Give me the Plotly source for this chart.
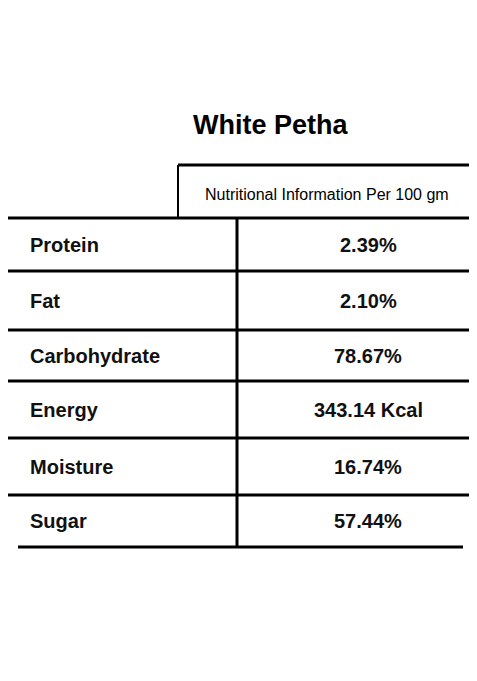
import plotly.graph_objects as go

title = "White Petha"
header = "Nutritional Information Per 100 gm"
nutrients = ["Protein", "Fat", "Carbohydrate", "Energy", "Moisture", "Sugar"]
values = ["2.39%", "2.10%", "78.67%", "343.14 Kcal", "16.74%", "57.44%"]

# layout (pixel-like coordinates)
row_edges = [218, 271, 330, 381, 438, 495, 547]
x_left, x_mid, x_right = 5, 237, 471
hdr_left, hdr_top = 178, 165
OFF = 8  # page body margin

fig = go.Figure()
fig.add_trace(go.Scatter(x=[OFF, 477], y=[OFF, 681], mode="markers", marker=dict(opacity=0), hoverinfo="skip", showlegend=False))

shapes = []
lw = 3
shapes.append(dict(type="line", x0=hdr_left, x1=x_right, y0=hdr_top, y1=hdr_top, line=dict(color="black", width=lw)))
shapes.append(dict(type="line", x0=hdr_left, x1=hdr_left, y0=hdr_top, y1=row_edges[0], line=dict(color="black", width=2)))
for i, y in enumerate(row_edges):
    x0 = 18 if i == len(row_edges) - 1 else x_left
    x1 = 463 if i == len(row_edges) - 1 else x_right
    shapes.append(dict(type="line", x0=x0, x1=x1, y0=y, y1=y, line=dict(color="black", width=lw)))
shapes.append(dict(type="line", x0=x_mid, x1=x_mid, y0=row_edges[0], y1=row_edges[-1], line=dict(color="black", width=lw)))

ann = [dict(x=270, y=125, text="<b>" + title + "</b>", showarrow=False, xanchor="center", yanchor="middle",
            font=dict(family="Liberation Sans, Arial", size=27, color="black")),
       dict(x=(hdr_left + x_right) / 2 + 2, y=(hdr_top + row_edges[0]) / 2 + 3, text=header, showarrow=False,
            xanchor="center", yanchor="middle",
            font=dict(family="Liberation Sans Narrow, Liberation Sans, Arial", size=16, color="black"))]
for i, (n, v) in enumerate(zip(nutrients, values)):
    yc = (row_edges[i] + row_edges[i + 1]) / 2
    ann.append(dict(x=28, y=yc, text="<b>" + n + "</b>", showarrow=False, xanchor="left", yanchor="middle",
                    font=dict(family="Liberation Sans, Arial", size=20, color="#111")))
    ann.append(dict(x=368, y=yc, text="<b>" + v + "</b>", showarrow=False, xanchor="center", yanchor="middle",
                    font=dict(family="Liberation Sans, Arial", size=20, color="#111")))

fig.update_layout(width=477 - OFF, height=681 - OFF, margin=dict(l=0, r=0, t=0, b=0),
                  paper_bgcolor="white", plot_bgcolor="white", shapes=shapes, annotations=ann,
                  xaxis=dict(range=[OFF, 477], visible=False, fixedrange=True),
                  yaxis=dict(range=[681, OFF], visible=False, fixedrange=True))
fig.write_html("out.html", config={"displayModeBar": False})
